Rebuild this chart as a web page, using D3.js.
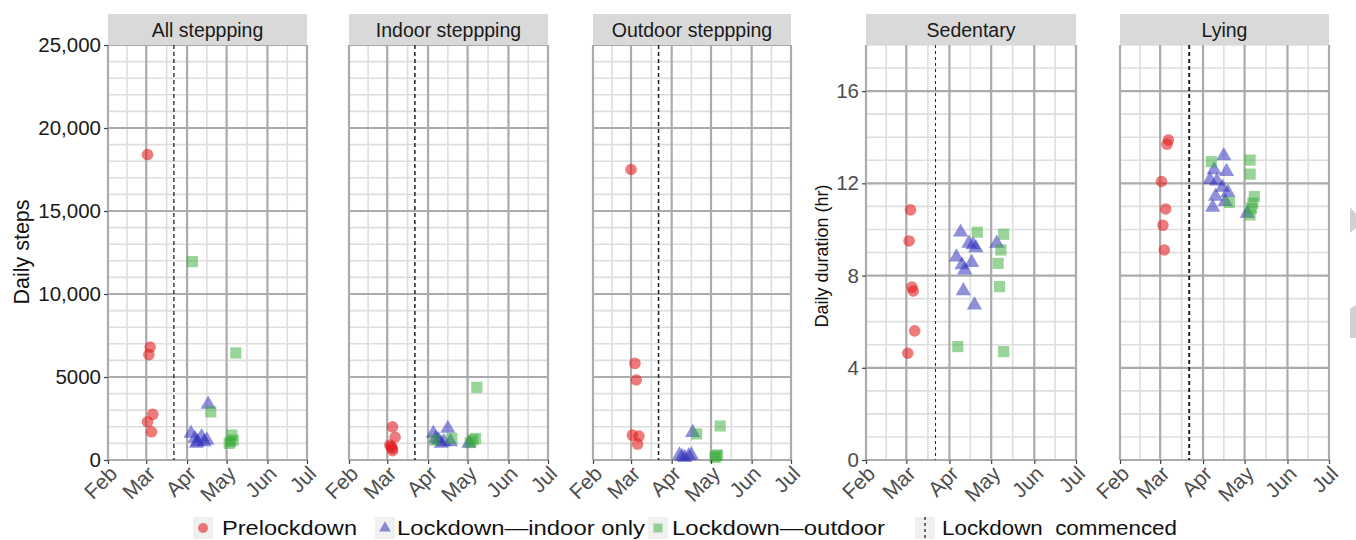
<!DOCTYPE html>
<html><head><meta charset="utf-8">
<script src="https://cdn.jsdelivr.net/npm/d3@7"></script>
<style>body{margin:0;background:#fff}svg{display:block;font-family:"Liberation Sans",Arial,sans-serif}</style>
</head><body>
<svg id="c" width="1356" height="540"></svg>
<script>
// ---------- data ----------
const months = ["Feb","Mar","Apr","May","Jun","Jul"];
const panelTitles = ["All steppping","Indoor steppping","Outdoor steppping","Sedentary","Lying"];
const stepTicks = [0,5000,10000,15000,20000,25000];
const stepTickLabels = ["0","5000","10,000","15,000","20,000","25,000"];
const hourTicks = [0,4,8,12,16];
const hourTickLabels = ["0","4","8","12","16"];
const lockdownDate = "03-22";
const legendLabels = ["Prelockdown","Lockdown\u2014indoor only","Lockdown\u2014outdoor","Lockdown\u00a0\u00a0commenced"];

const allPre = [["03-02",18400],["03-04",6800],["03-03",6350],["03-06",2750],["03-02",2300],["03-05",1700]];
const allIndoor = [["04-04",1600],["04-07",1300],["04-09",1100],["04-12",1400],["04-14",1100],["04-17",3350],["04-08",1000],["04-16",1200]];
const allOutdoor = [["04-05",11950],["04-19",2900],["05-08",6450],["05-05",1500],["05-04",1100],["05-06",1200],["05-03",1000]];

const indoorPre = [["03-05",2000],["03-07",1370],["03-03",900],["03-05",700],["03-05",560],["03-04",800]];
const indoorIndoor = [["04-05",1600],["04-16",1900],["04-09",1200],["04-11",1000],["04-13",1100],["04-18",1100],["05-02",1000],["04-07",1300]];
const indoorOutdoor = [["05-08",4380],["04-19",1300],["05-05",1200],["05-07",1300],["05-03",1050],["04-06",1200]];

const outPre = [["03-01",17500],["03-04",5820],["03-05",4820],["03-02",1500],["03-07",1440],["03-06",960]];
const outIndoor = [["04-17",1650],["04-07",300],["04-09",200],["04-14",250],["04-16",300],["04-11",150]];
const outOutdoor = [["04-20",1570],["05-08",2050],["05-05",250],["05-06",300],["05-04",150]];

const sedPre = [["03-04",10.85],["03-03",9.5],["03-05",7.5],["03-06",7.33],["03-07",5.6],["03-02",4.63]];
const sedIndoor = [["04-09",9.88],["04-15",9.4],["04-18",9.33],["04-20",9.2],["04-06",8.8],["04-10",8.46],["04-17",8.56],["04-12",8.24],["04-11",7.34],["04-19",6.72],["05-05",9.4]];
const sedOutdoor = [["04-21",9.88],["05-10",9.79],["05-08",9.11],["05-06",8.53],["05-07",7.52],["04-07",4.92],["05-10",4.7]];

const lyPre = [["03-07",13.88],["03-06",13.7],["03-02",12.08],["03-05",10.89],["03-03",10.18],["03-04",9.11]];
const lyIndoor = [["04-16",13.19],["04-09",12.58],["04-18",12.51],["04-06",12.15],["04-11",12.1],["04-15",11.83],["04-19",11.6],["04-10",11.43],["04-17",11.21],["04-08",10.96],["05-03",10.7]];
const lyOutdoor = [["04-07",12.94],["05-05",13.01],["05-05",12.4],["04-20",11.17],["05-08",11.43],["05-07",11.14],["05-06",10.92],["05-05",10.63]];

// ---------- layout ----------
const svg = d3.select("#c");
const TOP = 45, BOTTOM = 460, STRIP = 31;
const parse = d3.timeParse("%Y-%m-%d");
const dt = s => parse("2020-" + s);
const COL = {pre:"#e31a1c", ind:"#3333bb", out:"#33aa33"};

const panels = [
  {x0:108,x1:307,kind:"steps",pre:allPre,ind:allIndoor,out:allOutdoor,yAxis:true,dash:{w:1.3,d:"4,3"}},
  {x0:349,x1:548,kind:"steps",pre:indoorPre,ind:indoorIndoor,out:indoorOutdoor,yAxis:false,dash:{w:1.5,d:"4,3"}},
  {x0:593,x1:791,kind:"steps",pre:outPre,ind:outIndoor,out:outOutdoor,yAxis:false,dash:{w:1.5,d:"4,3"}},
  {x0:866,x1:1076,kind:"hours",pre:sedPre,ind:sedIndoor,out:sedOutdoor,yAxis:true,dash:{w:1,d:"3,3"}},
  {x0:1120,x1:1329,kind:"hours",pre:lyPre,ind:lyIndoor,out:lyOutdoor,yAxis:false,dash:{w:2,d:"4,3"}}
];

const monthDates = months.map((m,i)=>new Date(2020,1+i,1));

panels.forEach((p,pi)=>{
  const x = d3.scaleTime().domain([monthDates[0], monthDates[5]]).range([p.x0,p.x1]);
  const steps = p.kind==="steps";
  const y = d3.scaleLinear().domain(steps?[0,25000]:[0,18]).range([BOTTOM,TOP]);
  const majors = steps?stepTicks:hourTicks;
  const minors = steps? d3.range(0,25001,1000).filter(v=>v%5000!==0) : d3.range(0,19,1).filter(v=>v%4!==0);
  const g = svg.append("g");
  minors.forEach(v=>{
    g.append("line").attr("x1",p.x0).attr("x2",p.x1).attr("y1",y(v)).attr("y2",y(v))
      .attr("stroke","#dedede").attr("stroke-width",1.6);
  });
  for(let i=0;i<monthDates.length-1;i++){
    const mx=(x(monthDates[i])+x(monthDates[i+1]))/2;
    g.append("line").attr("x1",mx).attr("x2",mx).attr("y1",TOP).attr("y2",BOTTOM)
      .attr("stroke","#dedede").attr("stroke-width",1.6);
  }
  majors.forEach(v=>{
    g.append("line").attr("x1",p.x0).attr("x2",p.x1).attr("y1",y(v)).attr("y2",y(v))
      .attr("stroke","#ababab").attr("stroke-width",2.2);
  });
  monthDates.forEach(d=>{
    g.append("line").attr("x1",x(d)).attr("x2",x(d)).attr("y1",TOP).attr("y2",BOTTOM)
      .attr("stroke","#ababab").attr("stroke-width",2.2);
  });
  const lx = x(dt(lockdownDate));
  g.append("line").attr("x1",lx).attr("x2",lx).attr("y1",TOP).attr("y2",BOTTOM)
    .attr("stroke","#222").attr("stroke-width",p.dash.w).attr("stroke-dasharray",p.dash.d);
  g.selectAll(".pre").data(p.pre).join("circle")
    .attr("cx",d=>x(dt(d[0]))).attr("cy",d=>y(d[1])).attr("r",5.8)
    .attr("fill",COL.pre).attr("fill-opacity",0.58);
  g.selectAll(".ind").data(p.ind).join("path")
    .attr("d",d3.symbol(d3.symbolTriangle,100))
    .attr("transform",d=>`translate(${x(dt(d[0]))},${y(d[1])})`)
    .attr("fill",COL.ind).attr("fill-opacity",0.55);
  g.selectAll(".out").data(p.out).join("path")
    .attr("d",d3.symbol(d3.symbolSquare,125))
    .attr("transform",d=>`translate(${x(dt(d[0]))},${y(d[1])})`)
    .attr("fill",COL.out).attr("fill-opacity",0.5);
  g.append("rect").attr("x",p.x0).attr("y",TOP-STRIP).attr("width",p.x1-p.x0).attr("height",STRIP).attr("fill","#d9d9d9");
  g.append("text").attr("x",(p.x0+p.x1)/2).attr("y",TOP-STRIP/2).attr("dy","0.36em")
    .attr("text-anchor","middle").attr("font-size",19.5).attr("fill","#1a1a1a").text(panelTitles[pi]);
  const xa = d3.axisBottom(x).tickValues(monthDates).tickFormat((d,i)=>months[i]).tickSize(4).tickPadding(2);
  const gx = g.append("g").attr("transform",`translate(0,${BOTTOM})`).call(xa);
  gx.select(".domain").remove();
  gx.selectAll(".tick line").attr("stroke","#444").attr("stroke-width",1.2);
  gx.selectAll(".tick text").attr("font-size",21).attr("fill","#4d4d4d")
    .attr("text-anchor","end").attr("dy",null).attr("y",null)
    .attr("transform","translate(10,15) rotate(-45)");
  if(p.yAxis){
    const labels = steps?stepTickLabels:hourTickLabels;
    const ya = d3.axisLeft(y).tickValues(majors).tickFormat((d,i)=>labels[i]).tickSize(4).tickPadding(3);
    const gy = g.append("g").attr("transform",`translate(${p.x0},0)`).call(ya);
    gy.select(".domain").remove();
    gy.selectAll(".tick line").attr("stroke","#444").attr("stroke-width",1.2);
    gy.selectAll(".tick text").attr("font-size",20.5).attr("fill",steps?"#1a1a1a":"#4d4d4d");
  }
});

svg.append("text").attr("transform","translate(29,252) rotate(-90)").attr("text-anchor","middle")
  .attr("font-size",21.5).attr("fill","#111").text("Daily steps");
svg.append("text").attr("transform","translate(828,256) rotate(-90)").attr("text-anchor","middle")
  .attr("font-size",18).attr("fill","#111").text("Daily duration (hr)");

// legend
const LY = 528;
const legendKeys = [
  {kx:193,tx:222,len:135,type:"pre"},
  {kx:375,tx:397,len:248,type:"ind"},
  {kx:648,tx:672,len:213,type:"out"},
  {kx:915,tx:942,len:235,type:"line"}
];
legendKeys.forEach((k,i)=>{
  svg.append("rect").attr("x",k.kx).attr("y",LY-11).attr("width",20).attr("height",22).attr("fill","#f0f0f0");
  const cx=k.kx+10;
  if(k.type==="pre") svg.append("circle").attr("cx",cx).attr("cy",LY).attr("r",5).attr("fill",COL.pre).attr("fill-opacity",0.58);
  if(k.type==="ind") svg.append("path").attr("d",d3.symbol(d3.symbolTriangle,60)).attr("transform",`translate(${cx},${LY})`).attr("fill",COL.ind).attr("fill-opacity",0.55);
  if(k.type==="out") svg.append("path").attr("d",d3.symbol(d3.symbolSquare,80)).attr("transform",`translate(${cx},${LY})`).attr("fill",COL.out).attr("fill-opacity",0.5);
  if(k.type==="line") svg.append("line").attr("x1",cx).attr("x2",cx).attr("y1",LY-11).attr("y2",LY+11).attr("stroke","#222").attr("stroke-width",1.3).attr("stroke-dasharray","3,3");
  svg.append("text").attr("x",k.tx).attr("y",535).attr("font-size",21).attr("fill","#111")
    .attr("textLength",k.len).attr("lengthAdjust","spacingAndGlyphs").text(legendLabels[i]);
});

svg.append("path").attr("d","M1350,207 L1356,214 L1356,228 L1350,233 Z").attr("fill","#d0d0d0");
svg.append("path").attr("d","M1350,309 L1356,305 L1356,338 L1350,338 Z").attr("fill","#d0d0d0");
</script>
</body></html>
